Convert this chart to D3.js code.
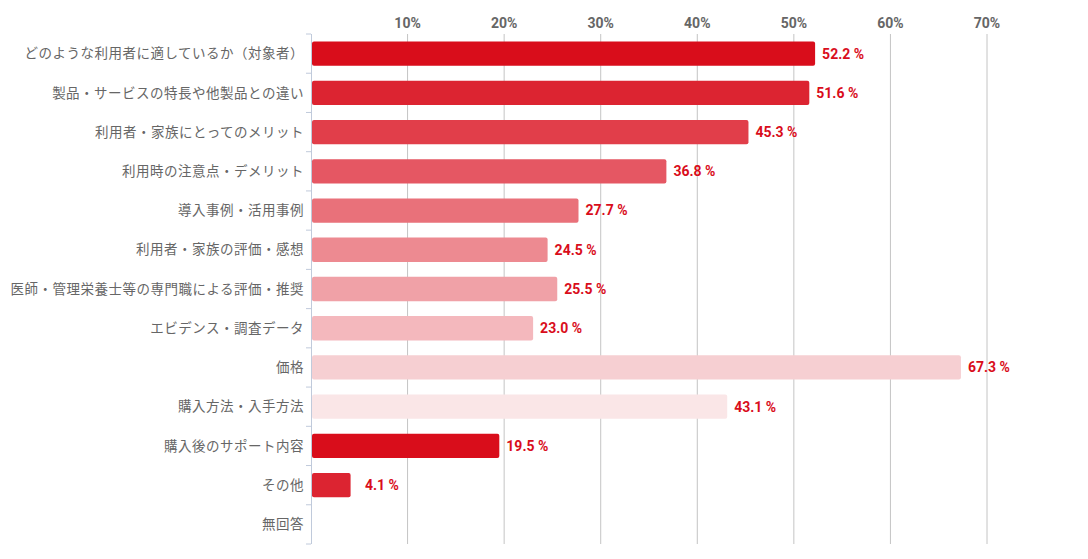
<!DOCTYPE html>
<html><head><meta charset="utf-8">
<script src="https://cdn.jsdelivr.net/npm/d3@7"></script>
<style>body{margin:0;background:#fff}text{font-family:"Noto Sans CJK JP",sans-serif}</style>
</head><body><div id="chart"></div>
<script>
const categories = ["どのような利用者に適しているか（対象者）","製品・サービスの特長や他製品との違い","利用者・家族にとってのメリット","利用時の注意点・デメリット","導入事例・活用事例","利用者・家族の評価・感想","医師・管理栄養士等の専門職による評価・推奨","エビデンス・調査データ","価格","購入方法・入手方法","購入後のサポート内容","その他","無回答"];
const values = [52.2, 51.6, 45.3, 36.8, 27.7, 24.5, 25.5, 23.0, 67.3, 43.1, 19.5, 4.1, null];
const barColors = ["#d90d1b","#dc2431","#e13e4a","#e55763","#e9717a","#ed8a91","#f0a1a7","#f4b8bd","#f6cfd2","#fae6e7","#d90d1b","#dc2431","#dc2431"];
const tickValues = [10,20,30,40,50,60,70];

const W = 1088, H = 559;
const svg = d3.select("#chart").append("svg").attr("width", W).attr("height", H);
const x = d3.scaleLinear().domain([0, 70]).range([311, 987]);
const y = d3.scaleBand().domain(categories).range([34, 544]).paddingInner(0.38).paddingOuter(0.19);
const band = d3.scaleBand().domain(categories).range([34, 544]);

// grid + top tick labels
svg.append("g").selectAll("line").data(tickValues).join("line")
  .attr("x1", d => x(d)).attr("x2", d => x(d)).attr("y1", 34).attr("y2", 544)
  .attr("stroke", "#c4c4c4").attr("stroke-width", 1);
svg.append("g").selectAll("text").data(tickValues).join("text")
  .attr("x", d => x(d)).attr("y", 28).attr("text-anchor", "middle")
  .attr("fill", "#666").attr("font-size", 14).attr("font-weight", "bold")
  .style("font-family", "Roboto, sans-serif").text(d => d + "%");

// left axis
const ax = svg.append("g");
ax.append("line").attr("x1", 311.5).attr("x2", 311.5).attr("y1", 34).attr("y2", 544).attr("stroke", "#c0cadb");
ax.selectAll("line.t").data(d3.range(categories.length + 1)).join("line").attr("class", "t")
  .attr("x1", 306).attr("x2", 311).attr("y1", i => 34 + i * band.step()).attr("y2", i => 34 + i * band.step())
  .attr("stroke", "#c0cadb");
ax.selectAll("text").data(categories).join("text")
  .attr("x", 304).attr("y", d => band(d) + band.bandwidth() / 2).attr("dy", "0.35em")
  .attr("text-anchor", "end").attr("fill", "#666").attr("font-size", 13.5)
  .attr("letter-spacing", "0.5px").text(d => d);

// bars
const data = categories.map((c, i) => ({ c, v: values[i], col: barColors[i] })).filter(d => d.v != null);
svg.append("g").selectAll("rect").data(data).join("rect")
  .attr("x", 312).attr("y", d => y(d.c)).attr("height", y.bandwidth())
  .attr("width", d => x(d.v) - 312).attr("rx", 2).attr("fill", d => d.col);
svg.append("g").selectAll("text").data(data).join("text")
  .attr("x", d => Math.max(x(d.v) + 7, 365)).attr("y", d => y(d.c) + y.bandwidth() / 2).attr("dy", "0.35em")
  .attr("fill", "#d90d1b").attr("font-size", 14).attr("font-weight", "bold")
  .style("font-family", "Roboto, sans-serif").text(d => d.v.toFixed(1) + " %");
</script></body></html>
